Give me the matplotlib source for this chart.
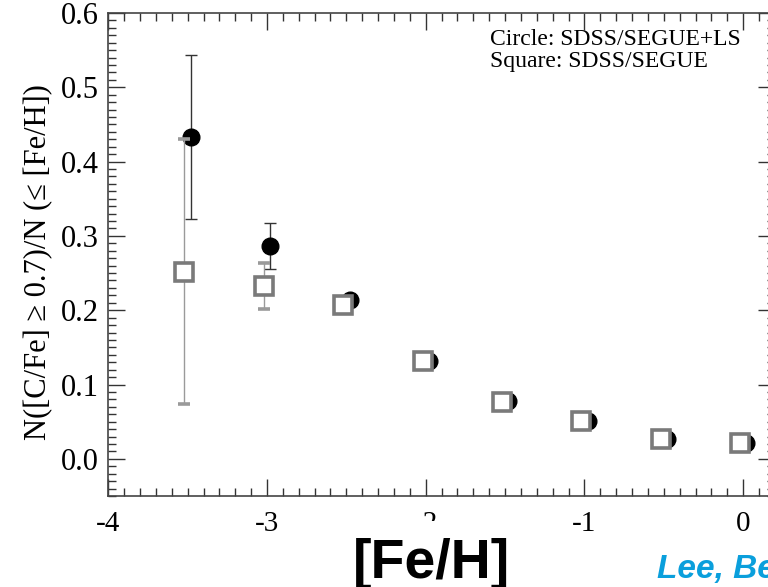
import matplotlib
matplotlib.use("Agg")
import matplotlib.pyplot as plt
import numpy as np
from matplotlib.ticker import MultipleLocator

plt.rcParams['font.family'] = ['Liberation Serif', 'DejaVu Serif']
plt.rcParams['axes.unicode_minus'] = False

# cumulative carbon-enhanced fraction vs metallicity bin
feh = np.array([-3.5, -3.0, -2.5, -2.0, -1.5, -1.0, -0.5, 0.0])

# SDSS/SEGUE + LS (circles)
frac_ls = [0.433, 0.286, 0.214, 0.132, 0.078, 0.051, 0.027, 0.022]
err_ls = [0.110, 0.031, 0.006, 0.006, 0.005, 0.004, 0.003, 0.003]

# SDSS/SEGUE only (squares)
frac_sg = [0.252, 0.233, 0.207, 0.131, 0.077, 0.051, 0.027, 0.021]
err_sg = [0.178, 0.031, 0.006, 0.006, 0.005, 0.004, 0.003, 0.003]

dx = 0.02

fig = plt.figure(figsize=(7.68, 5.87), dpi=100)
ax = fig.add_axes([0.141, 0.155, 0.868, 0.823])

ax.errorbar(feh + dx, frac_ls, yerr=err_ls, fmt='o', color='black',
            ms=12, ecolor='#333333', elinewidth=1, capsize=4, capthick=1, zorder=3)
ax.errorbar(feh - dx, frac_sg, yerr=err_sg, fmt='s', mfc='white', mec='#7a7a7a',
            mew=2.6, ms=12.5, ecolor='#9a9a9a', elinewidth=1, capsize=4, capthick=0.8,
            zorder=4)

ax.set_xlim(-4, 0.2)
ax.set_ylim(-0.05, 0.6)
ax.xaxis.set_major_locator(MultipleLocator(1))
ax.xaxis.set_minor_locator(MultipleLocator(0.1))
ax.yaxis.set_major_locator(MultipleLocator(0.1))
ax.yaxis.set_minor_locator(MultipleLocator(0.01))
ax.yaxis.set_major_formatter(matplotlib.ticker.FormatStrFormatter('%.1f'))
ax.xaxis.set_major_formatter(matplotlib.ticker.FormatStrFormatter('%d'))

ax.tick_params(which='both', direction='in', top=True, right=True, color='#333333')
ax.tick_params(which='major', length=12, width=1)
ax.tick_params(which='minor', length=6, width=1)
ax.tick_params(axis='x', which='major', labelsize=21, pad=11)
ax.tick_params(axis='y', which='major', labelsize=22, pad=7)
for s in ax.spines.values():
    s.set_color('#444444')
    s.set_linewidth(1.2)

ax.set_ylabel('N([C/Fe] \u2265 0.7)/N (\u2264 [Fe/H])', fontsize=22)
ax.yaxis.set_label_coords(-0.083, 0.485)

ax.text(0.573, 0.934, 'Circle: SDSS/SEGUE+LS', transform=ax.transAxes,
        fontsize=17, va='baseline')
ax.text(0.573, 0.889, 'Square: SDSS/SEGUE', transform=ax.transAxes,
        fontsize=17, va='baseline')

fig.text(0.562, 0.016, '[Fe/H]', family='Liberation Sans', weight='bold',
         fontsize=40, ha='center', va='baseline',
         bbox=dict(boxstyle='square,pad=0.3', facecolor='white', edgecolor='none'))
fig.text(0.855, 0.016, 'Lee, Beers et al.', family='Liberation Sans', weight='bold',
         style='italic', fontsize=24, color='#0a9fdc', ha='left', va='baseline')

fig.savefig('out.png', dpi=100)
